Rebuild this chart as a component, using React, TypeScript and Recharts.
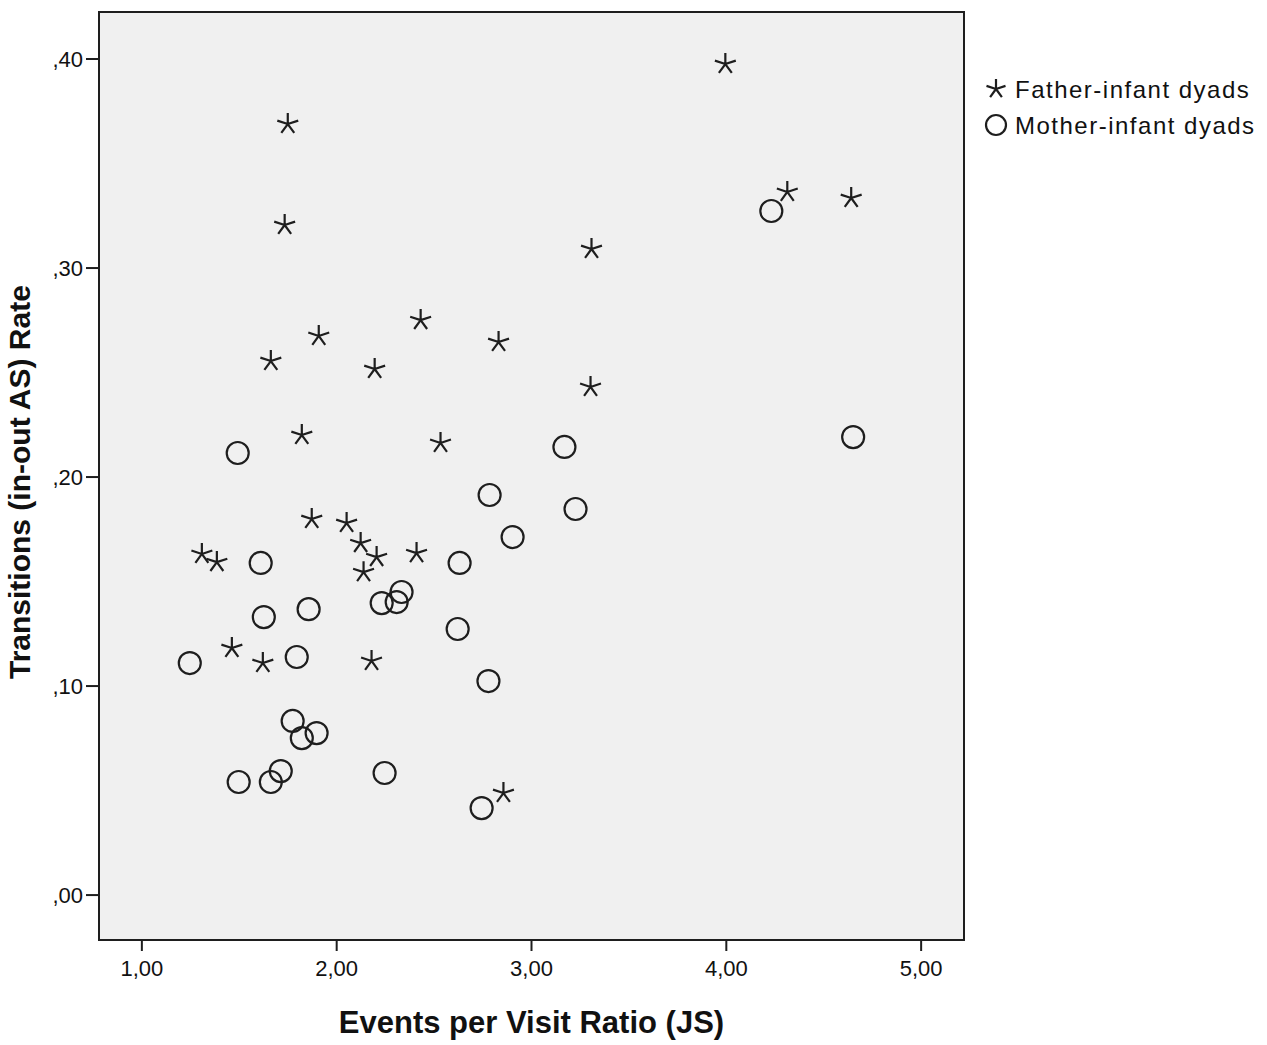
import React from 'react';
import { ScatterChart, Scatter, XAxis, YAxis, CartesianGrid, ReferenceArea } from 'recharts';

const fatherX = [3.995, 1.749, 1.733, 4.313, 4.641, 3.308, 1.908, 2.431, 2.831, 1.662, 2.195, 3.303, 1.821, 2.533, 1.872, 2.051, 2.123, 2.205, 2.138, 2.41, 1.308, 1.385, 1.462, 1.621, 2.179, 2.856];
const fatherY = [0.3976, 0.3689, 0.3206, 0.3364, 0.3335, 0.3091, 0.2675, 0.2751, 0.2646, 0.2555, 0.2517, 0.2431, 0.2201, 0.2163, 0.1799, 0.178, 0.1684, 0.1617, 0.1545, 0.1636, 0.1632, 0.1593, 0.1182, 0.111, 0.112, 0.0488];
const motherX = [4.231, 4.651, 1.492, 3.169, 2.785, 3.226, 2.903, 1.61, 2.631, 1.856, 1.626, 2.231, 2.308, 2.333, 2.621, 1.246, 1.795, 2.779, 1.774, 1.821, 1.897, 1.713, 1.662, 1.497, 2.246, 2.744];
const motherY = [0.3273, 0.2191, 0.2115, 0.2144, 0.1914, 0.1847, 0.1713, 0.1589, 0.1589, 0.1368, 0.133, 0.1397, 0.1402, 0.145, 0.1273, 0.111, 0.1139, 0.1024, 0.0833, 0.0751, 0.0775, 0.0593, 0.0541, 0.0541, 0.0584, 0.0416];

const xTicks = [1, 2, 3, 4, 5];
const yTicks = [0, 0.1, 0.2, 0.3, 0.4];
const xDomain = [0.78, 5.22];
const yDomain = [-0.0215, 0.4225];
const seriesNames = ['Father-infant dyads', 'Mother-infant dyads'];

const fatherData = fatherX.map((x, i) => ({ x, y: fatherY[i] }));
const motherData = motherX.map((x, i) => ({ x, y: motherY[i] }));

const INK = '#1e1e1e';
const FONT = 'Arial, "Liberation Sans", sans-serif';

const starPath = (cx: number, cy: number, r: number) => {
  let d = '';
  for (let k = 0; k < 5; k++) {
    const a = (-90 + k * 72) * Math.PI / 180;
    d += `M${cx},${cy}L${cx + r * Math.cos(a)},${cy + r * Math.sin(a)}`;
  }
  return d;
};

const StarShape = (props: any) => {
  const { cx, cy } = props;
  if (cx == null || cy == null) return null;
  return <path d={starPath(cx, cy, 11)} stroke={INK} strokeWidth={2.2} fill="none" />;
};

const CircleShape = (props: any) => {
  const { cx, cy } = props;
  if (cx == null || cy == null) return null;
  return <circle cx={cx} cy={cy} r={11} stroke={INK} strokeWidth={2.2} fill="none" />;
};

const fmtX = (v: number) => v.toFixed(2).replace('.', ',');
const fmtY = (v: number) => v.toFixed(2).replace(/^0\./, ',');

export default function App() {
  return (
    <div style={{ position: 'absolute', left: 0, top: 0, width: 1267, height: 1045, background: '#fff' }}>
      <ScatterChart
        width={1267}
        height={1045}
        margin={{ top: 12, right: 303, bottom: 45, left: 0 }}
      >
        <CartesianGrid fill="#f0f0f0" horizontal={false} vertical={false} />
        <XAxis
          type="number"
          dataKey="x"
          domain={xDomain}
          ticks={xTicks}
          tickFormatter={fmtX}
          height={60}
          tickSize={11}
          tickMargin={9}
          axisLine={{ stroke: INK, strokeWidth: 2 }}
          tickLine={{ stroke: INK, strokeWidth: 2 }}
          tick={{ fill: '#111', fontSize: 22, fontFamily: FONT }}
          label={{ value: 'Events per Visit Ratio (JS)', position: 'insideBottom', offset: -33, fontSize: 31, fontWeight: 'bold', fontFamily: FONT, fill: '#111' }}
          allowDataOverflow
        />
        <YAxis
          type="number"
          dataKey="y"
          domain={yDomain}
          ticks={yTicks}
          tickFormatter={fmtY}
          width={99}
          tickSize={13}
          tickMargin={3}
          axisLine={{ stroke: INK, strokeWidth: 2 }}
          tickLine={{ stroke: INK, strokeWidth: 2 }}
          tick={{ fill: '#111', fontSize: 22, fontFamily: FONT }}
          label={{ value: 'Transitions (in-out AS) Rate', angle: -90, position: 'insideLeft', offset: 19, dy: 203, fontSize: 30, fontWeight: 'bold', fontFamily: FONT, fill: '#111' }}
          allowDataOverflow
        />
        <ReferenceArea x1={xDomain[0]} x2={xDomain[1]} y1={yDomain[0]} y2={yDomain[1]} fill="none" fillOpacity={0} stroke={INK} strokeWidth={2} ifOverflow="visible" />
        <Scatter name={seriesNames[1]} data={motherData} shape={CircleShape} isAnimationActive={false} />
        <Scatter name={seriesNames[0]} data={fatherData} shape={StarShape} isAnimationActive={false} />
      </ScatterChart>
      <svg width={290} height={80} style={{ position: 'absolute', left: 983, top: 72 }}>
        <path d={starPath(13, 17, 10)} stroke={INK} strokeWidth={2.2} fill="none" />
        <text x={32} y={26} fontSize={24} fontFamily={FONT} fill="#111" letterSpacing={1.5}>{seriesNames[0]}</text>
        <circle cx={13} cy={53} r={10} stroke={INK} strokeWidth={2.2} fill="none" />
        <text x={32} y={62} fontSize={24} fontFamily={FONT} fill="#111" letterSpacing={1.5}>{seriesNames[1]}</text>
      </svg>
    </div>
  );
}
